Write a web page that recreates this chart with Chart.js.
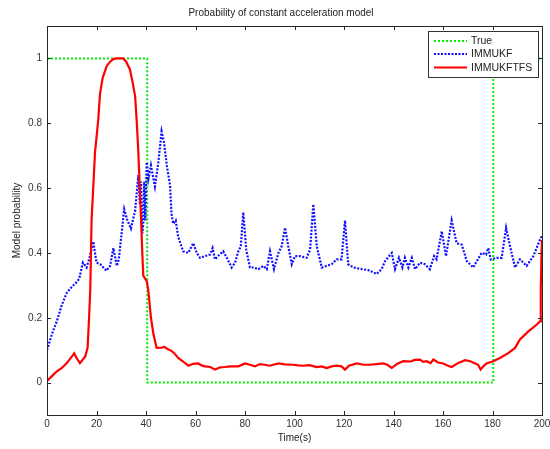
<!DOCTYPE html>
<html><head><meta charset="utf-8">
<script src="https://cdn.jsdelivr.net/npm/chart.js@4/dist/chart.umd.min.js"></script>
<style>html,body{margin:0;padding:0;background:#fff;overflow:hidden;}</style>
</head><body>
<canvas id="c" width="550" height="449"></canvas>
<script>
const chartTitle = 'Probability of constant acceleration model';
const xTitle = 'Time(s)';
const yTitle = 'Model probability';
const xTicks = [0, 20, 40, 60, 80, 100, 120, 140, 160, 180, 200];
const yTicks = [0, 0.2, 0.4, 0.6, 0.8, 1];
const seriesNames = ['True', 'IMMUKF', 'IMMUKFTFS'];

const trueT = [0, 40.5, 40.5, 180.3, 180.3, 200];
const trueV = [1, 1, 0, 0, 1, 1];

const ukfT = [0, 2, 4, 6, 8, 10, 12, 13, 14.5, 16, 17, 18.7, 20, 21.5, 24, 25.5, 26.8, 28.2, 29, 31.2, 32.5, 33.9, 35.6, 36.9, 37.5, 38, 38.5, 38.9, 39.3, 39.7, 40.3, 41, 42, 43.6, 45, 46.3, 47.3, 48.4, 49.7, 50.3, 51, 52, 53, 55, 57.1, 59.1, 60.5, 61.8, 63.8, 65.9, 66.9, 67.9, 69, 71.2, 73, 74.6, 76, 77.3, 78.3, 79.3, 80.5, 82, 83.5, 85.4, 87.4, 88.8, 90.1, 91.7, 93.5, 94.8, 96.2, 97.5, 98.9, 100.2, 102.2, 104.9, 106.3, 107.6, 109, 111, 113, 115, 117, 119, 120.4, 121.7, 123.8, 127.2, 129.8, 133.2, 135.2, 136.6, 139.3, 140.6, 142.2, 143.6, 144.6, 146, 147.4, 148.7, 150.7, 152.7, 154.7, 156.4, 157.4, 159.5, 161.2, 163.5, 165.5, 167.6, 169.6, 172.2, 175.6, 177.4, 178.3, 179.3, 181.7, 183.7, 185.5, 187.1, 189.1, 191.1, 193.8, 196.5, 199.5, 200];
const ukfV = [0.10, 0.15, 0.19, 0.24, 0.277, 0.295, 0.31, 0.32, 0.37, 0.355, 0.38, 0.435, 0.37, 0.365, 0.345, 0.36, 0.415, 0.36, 0.38, 0.535, 0.50, 0.475, 0.53, 0.64, 0.55, 0.62, 0.46, 0.49, 0.62, 0.50, 0.68, 0.63, 0.67, 0.605, 0.68, 0.775, 0.74, 0.67, 0.61, 0.52, 0.49, 0.50, 0.45, 0.405, 0.40, 0.43, 0.40, 0.385, 0.39, 0.395, 0.415, 0.38, 0.39, 0.405, 0.38, 0.355, 0.37, 0.405, 0.42, 0.525, 0.41, 0.355, 0.355, 0.35, 0.36, 0.35, 0.405, 0.35, 0.40, 0.42, 0.478, 0.42, 0.365, 0.39, 0.39, 0.385, 0.41, 0.55, 0.42, 0.355, 0.36, 0.365, 0.38, 0.38, 0.50, 0.365, 0.355, 0.35, 0.347, 0.335, 0.35, 0.375, 0.40, 0.35, 0.385, 0.355, 0.385, 0.355, 0.385, 0.35, 0.37, 0.365, 0.35, 0.39, 0.38, 0.467, 0.39, 0.50, 0.43, 0.425, 0.375, 0.355, 0.40, 0.395, 0.415, 0.38, 0.385, 0.385, 0.477, 0.42, 0.355, 0.38, 0.36, 0.39, 0.447, 0.45];

const tfsT = [0, 2, 4, 6, 8, 10, 11, 12, 13.3, 15.4, 16.4, 17, 17.5, 18, 19.4, 20.7, 21.4, 22.5, 24.1, 25.5, 26.8, 28, 30.8, 32, 33.5, 34.5, 35.6, 36.3, 36.9, 38, 38.5, 38.9, 40.3, 40.9, 42, 43, 44.3, 46.3, 47.5, 48.4, 50.4, 51.5, 53, 55, 57.1, 59, 61.1, 62.5, 63.8, 66, 67.9, 70, 71.9, 74, 77.3, 80, 82, 84, 86, 88, 90, 93.5, 96, 99.5, 101.5, 103.6, 106, 109, 111, 113, 115, 117, 119, 120.4, 122, 125.1, 128, 130.5, 133, 135.9, 137.5, 139.3, 141.5, 144, 147, 148.5, 150.7, 152, 153.4, 155, 156.1, 158, 160.1, 162, 163.5, 166, 168.9, 171, 173, 174.2, 175.2, 176.3, 177.6, 180.3, 183, 186.4, 189.1, 191.1, 194.5, 197.9, 199.2, 199.5, 199.8, 200];
const tfsV = [0.005, 0.02, 0.035, 0.045, 0.06, 0.08, 0.09, 0.075, 0.06, 0.08, 0.107, 0.2, 0.29, 0.5, 0.71, 0.81, 0.89, 0.94, 0.976, 0.99, 0.998, 1.0, 1.0, 0.99, 0.966, 0.93, 0.884, 0.8, 0.71, 0.503, 0.40, 0.33, 0.313, 0.287, 0.2, 0.15, 0.107, 0.108, 0.11, 0.105, 0.097, 0.09, 0.076, 0.065, 0.052, 0.058, 0.059, 0.053, 0.05, 0.048, 0.04, 0.047, 0.048, 0.05, 0.05, 0.059, 0.055, 0.05, 0.057, 0.055, 0.052, 0.059, 0.056, 0.055, 0.053, 0.052, 0.054, 0.048, 0.05, 0.045, 0.05, 0.052, 0.05, 0.04, 0.052, 0.059, 0.055, 0.055, 0.057, 0.059, 0.055, 0.045, 0.058, 0.066, 0.065, 0.07, 0.071, 0.064, 0.066, 0.06, 0.071, 0.062, 0.059, 0.052, 0.048, 0.06, 0.069, 0.066, 0.059, 0.055, 0.04, 0.05, 0.059, 0.066, 0.076, 0.091, 0.107, 0.133, 0.158, 0.179, 0.189, 0.287, 0.40, 0.44];

const pts = (ts, vs) => ts.map((t, i) => ({x: t, y: vs[i]}));
const FONT = '"Liberation Sans", Arial, sans-serif';

const styles = [
  {color: '#00ee00', dash: [2, 2], width: 2},
  {color: '#1010ff', dash: [2, 1.5], width: 2.2},
  {color: '#ff0000', dash: [], width: 2.2}
];

const framePlugin = {
  id: 'frame',
  afterDatasetsDraw(chart) {
    const {ctx, chartArea: a, scales} = chart;
    ctx.save();
    ctx.strokeStyle = '#262626';
    ctx.lineWidth = 1;
    ctx.beginPath();
    xTicks.forEach(v => {
      const px = Math.round(scales.x.getPixelForValue(v)) + 0.5;
      ctx.moveTo(px, a.bottom); ctx.lineTo(px, a.bottom - 4);
      ctx.moveTo(px, a.top); ctx.lineTo(px, a.top + 4);
    });
    yTicks.forEach(v => {
      const py = Math.round(scales.y.getPixelForValue(v)) + 0.5;
      ctx.moveTo(a.left, py); ctx.lineTo(a.left + 4, py);
      ctx.moveTo(a.right, py); ctx.lineTo(a.right - 4, py);
    });
    ctx.stroke();
    ctx.strokeRect(Math.round(a.left) + 0.5, Math.round(a.top) + 0.5, Math.round(a.width), Math.round(a.height));

    // legend box
    const lx = 428, ly = 31, lw = 110, lh = 46;
    ctx.fillStyle = '#fff';
    ctx.fillRect(lx, ly, lw, lh);
    ctx.strokeStyle = '#333';
    ctx.strokeRect(lx + 0.5, ly + 0.5, lw, lh);
    ctx.font = '10.5px ' + FONT;
    ctx.textBaseline = 'middle';
    ctx.textAlign = 'left';
    const rows = [41, 54, 67.5];
    seriesNames.forEach((n, i) => {
      const s = styles[i];
      ctx.strokeStyle = s.color;
      ctx.lineWidth = s.width;
      ctx.setLineDash(s.dash);
      ctx.beginPath();
      ctx.moveTo(434, rows[i]); ctx.lineTo(467, rows[i]);
      ctx.stroke();
      ctx.setLineDash([]);
      ctx.fillStyle = '#222';
      ctx.fillText(n, 471, rows[i] + 0.5);
    });

    // chart title
    ctx.font = '10px ' + FONT;
    ctx.textAlign = 'center';
    ctx.fillStyle = '#222';
    ctx.fillText(chartTitle, 281, 13);
    ctx.restore();
  }
};

new Chart(document.getElementById('c'), {
  type: 'line',
  data: {
    datasets: [
      {label: seriesNames[0], data: pts(trueT, trueV), borderColor: styles[0].color, borderDash: styles[0].dash, borderWidth: styles[0].width, order: 2},
      {label: seriesNames[1], data: pts(ukfT, ukfV), borderColor: styles[1].color, borderDash: styles[1].dash, borderWidth: styles[1].width, order: 1},
      {label: seriesNames[2], data: pts(tfsT, tfsV), borderColor: styles[2].color, borderDash: styles[2].dash, borderWidth: styles[2].width, order: 0}
    ]
  },
  options: {
    responsive: false,
    devicePixelRatio: 1,
    animation: false,
    parsing: false,
    elements: {point: {radius: 0}, line: {tension: 0, fill: false, borderCapStyle: 'butt'}},
    layout: {padding: {top: 26, right: 8, left: 0, bottom: 0}},
    plugins: {legend: {display: false}, title: {display: false}, tooltip: {enabled: false}},
    scales: {
      x: {
        type: 'linear', min: 0, max: 200,
        afterBuildTicks: s => { s.ticks = xTicks.map(v => ({value: v})); },
        afterFit: s => { s.height = 34; s.paddingLeft = 0; s.paddingRight = 0; },
        grid: {display: false, drawTicks: false},
        border: {display: false},
        ticks: {padding: 3, color: '#333', font: {family: FONT, size: 10}, maxRotation: 0, autoSkip: false},
        title: {display: true, text: xTitle, color: '#222', font: {family: FONT, size: 10}, padding: {top: 0, bottom: 5}}
      },
      y: {
        type: 'linear', min: -0.1, max: 1.1,
        afterBuildTicks: s => { s.ticks = yTicks.map(v => ({value: v})); },
        afterFit: s => { s.width = 47; s.paddingTop = 0; s.paddingBottom = 0; },
        grid: {display: false, drawTicks: false},
        border: {display: false},
        ticks: {padding: 5, color: '#333', font: {family: FONT, size: 10}, callback: v => String(Number(v.toFixed(1)))},
        title: {display: true, text: yTitle, color: '#222', font: {family: FONT, size: 10}, padding: {top: 11, bottom: 0}}
      }
    }
  },
  plugins: [framePlugin]
});
</script>
</body></html>
